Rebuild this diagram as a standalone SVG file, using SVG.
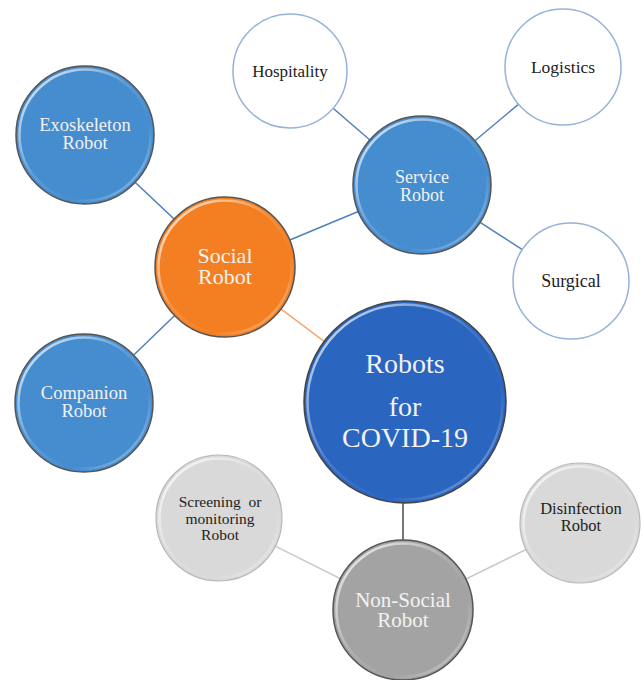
<svg xmlns="http://www.w3.org/2000/svg" width="644" height="680" viewBox="0 0 644 680">
<defs>
<linearGradient id="hl" x1="0" y1="0" x2="1" y2="1">
<stop offset="0" stop-color="#ffffff" stop-opacity="0.9"/>
<stop offset="0.45" stop-color="#ffffff" stop-opacity="0.15"/>
<stop offset="0.7" stop-color="#ffffff" stop-opacity="0"/>
<stop offset="1" stop-color="#ffffff" stop-opacity="0.5"/>
</linearGradient>
<style>
.lb{stroke:#4f81bd;stroke-width:1.5;fill:none}
.lo{stroke:#f6a46c;stroke-width:1.5;fill:none}
.ld{stroke:#4a4a4a;stroke-width:1.5;fill:none}
.lg{stroke:#c8c8c8;stroke-width:1.5;fill:none}
.blue{fill:#468dd0;stroke:#555;stroke-width:1.5}
.orange{fill:#f47f22;stroke:#555;stroke-width:1.5}
.dblue{fill:#2a65c0;stroke:#444;stroke-width:1.5}
.gray{fill:#a3a3a3;stroke:#555;stroke-width:1.5}
.lgray{fill:#d9d9d9;stroke:#b8b8b8;stroke-width:1.2}
.white{fill:#ffffff;stroke:#95b3d7;stroke-width:1.5}
.hl{fill:none;stroke:url(#hl);stroke-width:2.5}
.tw{fill:#f2f2f2}
.tk{fill:#222222}
</style>
</defs>
<g id="connectors">
<line class="lb" x1="85" y1="135" x2="225" y2="267"/>
<line class="lb" x1="225" y1="267" x2="422" y2="185"/>
<line class="lb" x1="225" y1="267" x2="84" y2="403"/>
<line class="lo" x1="225" y1="267" x2="405" y2="402"/>
<line class="lb" x1="422" y1="185" x2="290" y2="71"/>
<line class="lb" x1="422" y1="185" x2="563" y2="67"/>
<line class="lb" x1="422" y1="185" x2="571" y2="281"/>
<line class="ld" x1="403" y1="402" x2="403" y2="610"/>
<line class="lg" x1="403" y1="610" x2="219" y2="518"/>
<line class="lg" x1="403" y1="610" x2="580" y2="523"/>
</g>
<g font-family="Liberation Serif, DejaVu Serif, serif" text-anchor="middle">
<g id="hospitality">
<circle class="white" cx="290" cy="71" r="57"/>
<text class="tk" x="290" y="77" font-size="17">Hospitality</text>
</g>
<g id="logistics">
<circle class="white" cx="563" cy="67" r="58"/>
<text class="tk" x="563" y="73" font-size="17.5">Logistics</text>
</g>
<g id="surgical">
<circle class="white" cx="571" cy="281" r="58"/>
<text class="tk" x="571" y="287" font-size="18">Surgical</text>
</g>
<g id="exoskeleton">
<circle class="blue" cx="85" cy="135" r="69"/>
<circle class="hl" cx="85" cy="135" r="65.5"/>
<text class="tw" font-size="18.5"><tspan x="85" y="131">Exoskeleton</tspan><tspan x="85" y="149">Robot</tspan></text>
</g>
<g id="service">
<circle class="blue" cx="422" cy="185" r="69"/>
<circle class="hl" cx="422" cy="185" r="65.5"/>
<text class="tw" font-size="18"><tspan x="422" y="183">Service</tspan><tspan x="422" y="201">Robot</tspan></text>
</g>
<g id="social">
<circle class="orange" cx="225" cy="267" r="70"/>
<circle class="hl" cx="225" cy="267" r="66.5"/>
<text class="tw" font-size="22"><tspan x="225" y="263">Social</tspan><tspan x="225" y="284">Robot</tspan></text>
</g>
<g id="companion">
<circle class="blue" cx="84" cy="403" r="69"/>
<circle class="hl" cx="84" cy="403" r="65.5"/>
<text class="tw" font-size="18.5"><tspan x="84" y="399">Companion</tspan><tspan x="84" y="417">Robot</tspan></text>
</g>
<g id="covid">
<circle class="dblue" cx="405" cy="402" r="101"/>
<circle class="hl" cx="405" cy="402" r="97.5"/>
<text class="tw" font-size="28"><tspan x="405" y="373">Robots</tspan><tspan x="405" y="416">for</tspan><tspan x="405" y="447">COVID-19</tspan></text>
</g>
<g id="screening">
<circle class="lgray" cx="219" cy="518" r="63"/>
<circle class="hl" cx="219" cy="518" r="59.5"/>
<text class="tk" font-size="15.5" xml:space="preserve"><tspan x="220" y="507">Screening  or</tspan><tspan x="220" y="524">monitoring</tspan><tspan x="220" y="540">Robot</tspan></text>
</g>
<g id="disinfection">
<circle class="lgray" cx="580" cy="523" r="60"/>
<circle class="hl" cx="580" cy="523" r="56.5"/>
<text class="tk" font-size="16.5"><tspan x="581" y="514">Disinfection</tspan><tspan x="581" y="531">Robot</tspan></text>
</g>
<g id="nonsocial">
<circle class="gray" cx="403" cy="610" r="70"/>
<circle class="hl" cx="403" cy="610" r="66.5"/>
<text class="tw" font-size="21"><tspan x="403" y="607">Non-Social</tspan><tspan x="403" y="627">Robot</tspan></text>
</g>
</g>
</svg>
